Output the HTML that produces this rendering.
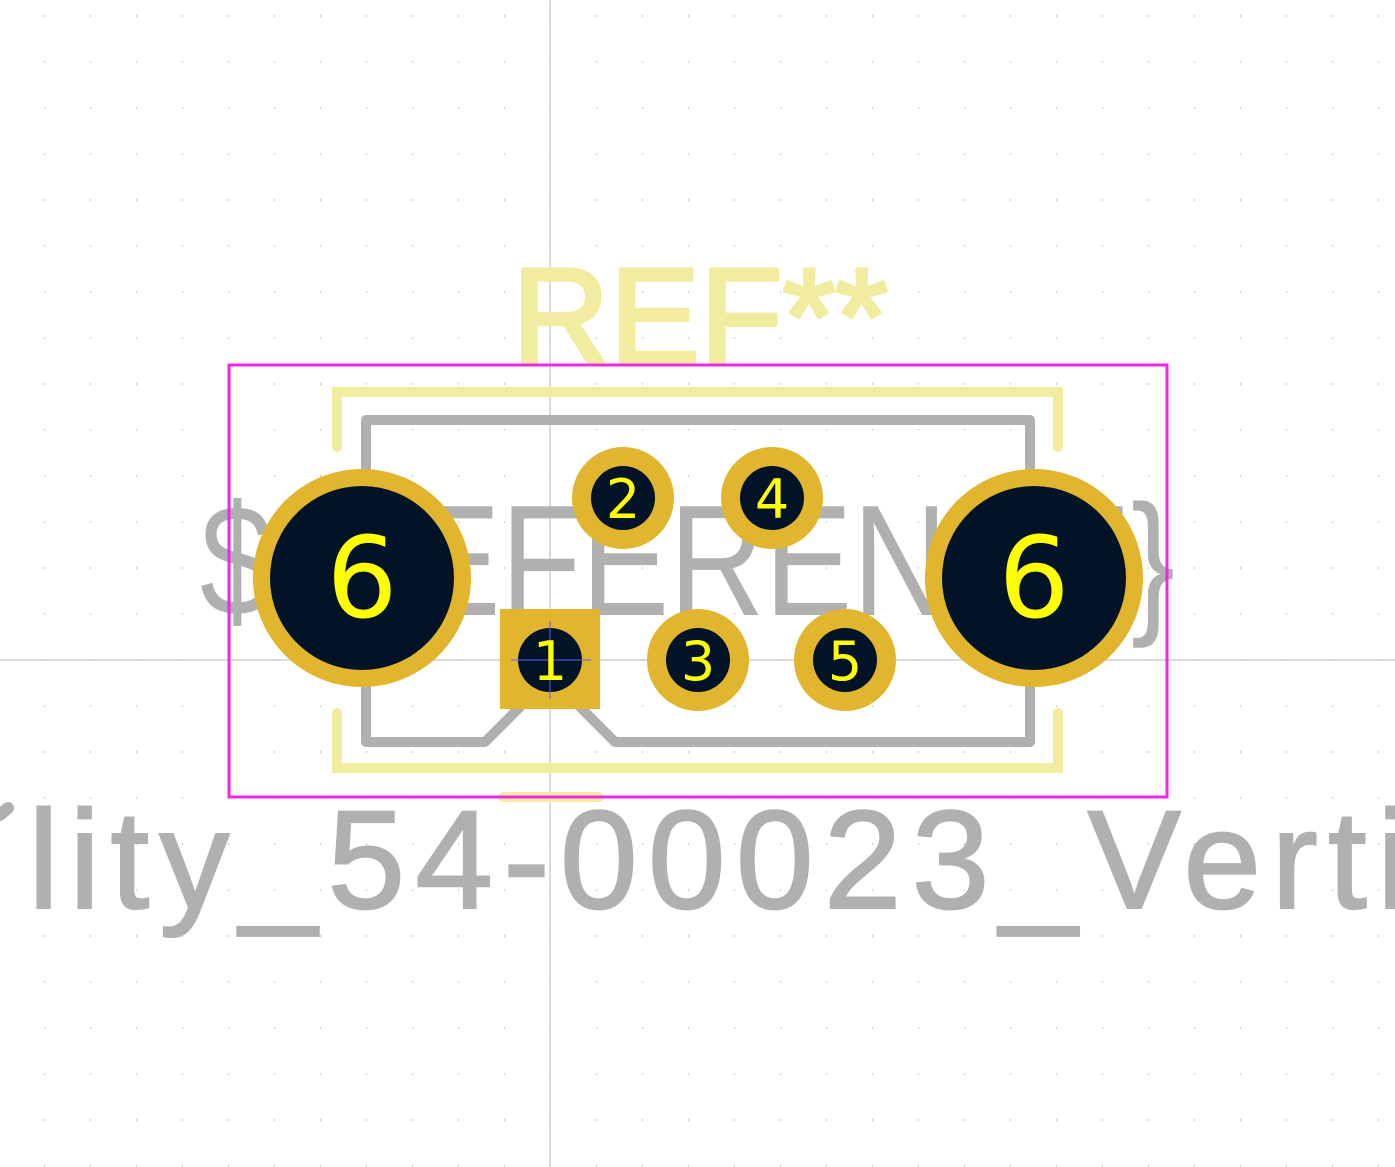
<!DOCTYPE html>
<html><head><meta charset="utf-8"><style>html,body{margin:0;padding:0;background:#fff}svg{display:block}</style></head>
<body>
<svg width="1395" height="1167" viewBox="0 0 1395 1167" xmlns="http://www.w3.org/2000/svg">
<defs>
<pattern id="g" x="-1" y="15" width="46" height="46" patternUnits="userSpaceOnUse">
<rect x="45" y="0" width="2" height="2" fill="#c8c8c8"/>
</pattern>
</defs>
<rect width="1395" height="1167" fill="#fff"/>
<rect width="1395" height="1167" fill="url(#g)"/>
<line x1="550" y1="0" x2="550" y2="1167" stroke="#cfcfcf" stroke-width="1.5"/>
<line x1="0" y1="660" x2="1395" y2="660" stroke="#cfcfcf" stroke-width="1.5"/>
<g font-family="Liberation Sans, sans-serif" fill="#b0b0b0">
<text x="200" y="615" font-size="158" textLength="975" lengthAdjust="spacingAndGlyphs">${REFERENCE}</text>
<text x="28" y="908" font-size="140" textLength="1380" lengthAdjust="spacing" stroke="#b0b0b0" stroke-width="2">lity_54-00023_Verti</text>
</g>
<path d="M0 815 L8 808" stroke="#b0b0b0" stroke-width="12" stroke-linecap="round"/>
<text x="512" y="363" font-family="Liberation Sans, sans-serif" font-size="136" fill="#f2eca0" stroke="#f2eca0" stroke-width="4" stroke-linejoin="round" textLength="376" lengthAdjust="spacingAndGlyphs">REF**</text>
<g fill="none" stroke="#b0b0b0" stroke-width="10" stroke-linejoin="round" stroke-linecap="round">
<path d="M485 742 L366 742 L366 420 L1030 420 L1030 742 L615 742 L580 707 M520 707 L485 742"/>
</g>
<g fill="none" stroke="#f2eca0" stroke-width="10" stroke-linecap="round">
<path d="M337 447 L337 392 L1058 392 L1058 447"/>
<path d="M337 713 L337 768 L1058 768 L1058 713"/>
<path d="M503 797 L599 797"/>
</g>
<rect x="229" y="365" width="938" height="432" fill="none" stroke="#f027e6" stroke-width="3"/>
<g fill="#e1b52d">
<circle cx="362" cy="578" r="109"/><circle cx="1034" cy="578" r="109"/>
<circle cx="623" cy="498" r="51"/><circle cx="772" cy="498" r="51"/>
<circle cx="698" cy="660" r="51"/><circle cx="845" cy="660" r="51"/>
<rect x="500" y="609" width="100" height="100"/>
</g>
<g fill="#021327">
<circle cx="362" cy="578" r="92"/><circle cx="1034" cy="578" r="92"/>
<circle cx="623" cy="498" r="32"/><circle cx="772" cy="498" r="32"/>
<circle cx="698" cy="660" r="32"/><circle cx="845" cy="660" r="32"/>
<circle cx="550" cy="660" r="32"/>
</g>
<line x1="511" y1="660" x2="591" y2="660" stroke="#6060ff" stroke-width="1"/>
<line x1="550" y1="621" x2="550" y2="699" stroke="#6060ff" stroke-width="1"/>
<g font-family="DejaVu Sans, Liberation Sans, sans-serif" fill="#ffff00" text-anchor="middle">
<text x="362" y="617" font-size="112">6</text>
<text x="1034" y="617" font-size="112">6</text>
<text x="623" y="518" font-size="54">2</text>
<text x="772" y="518" font-size="54">4</text>
<text x="550" y="680" font-size="54">1</text>
<text x="698" y="680" font-size="54">3</text>
<text x="845" y="680" font-size="54">5</text>
</g>
</svg>
</body></html>
